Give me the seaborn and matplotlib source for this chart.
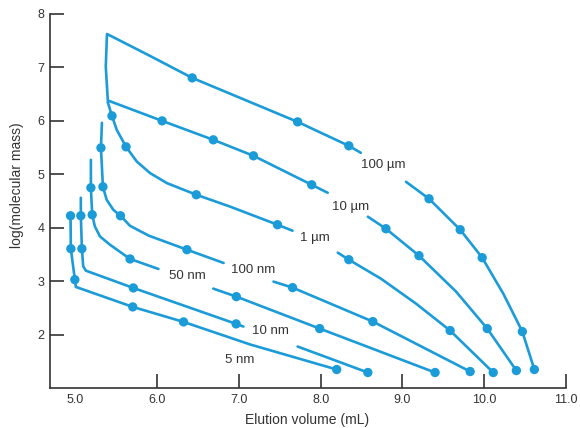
import numpy as np
import pandas as pd
import seaborn as sns
import matplotlib.pyplot as plt

# calibration curves: log(molecular mass) vs elution volume, one per pore size
# None marks a break in the line (where the label sits)
line_5nm = [(4.941, 4.224), (4.945, 3.607), (4.994, 3.028), (5.006, 2.892), (5.702, 2.518),
            (6.323, 2.237), (7.141, 1.813), (8.196, 1.346)]
dots_5nm = [(4.941, 4.224), (4.945, 3.607), (4.994, 3.028), (5.702, 2.518), (6.323, 2.237),
            (8.196, 1.346)]

line_10nm = [(5.067, 4.561), (5.067, 4.224), (5.080, 3.607), (5.096, 3.277), (5.129, 3.196),
             (5.709, 2.873), (6.966, 2.200), (7.055, 2.150), None,
             (7.718, 1.776), (8.577, 1.290)]
dots_10nm = [(5.067, 4.224), (5.080, 3.607), (5.709, 2.873), (6.966, 2.200), (8.577, 1.290)]

line_50nm = [(5.190, 5.271), (5.190, 4.748), (5.206, 4.243), (5.239, 4.024), (5.301, 3.837),
             (5.423, 3.682), (5.669, 3.415), (6.016, 3.228), None,
             (6.687, 2.860), (6.969, 2.710), (7.988, 2.112), (9.399, 1.290)]
dots_50nm = [(5.190, 4.748), (5.206, 4.243), (5.669, 3.415), (6.969, 2.710), (7.988, 2.112),
             (9.399, 1.290)]

line_100nm = [(5.325, 5.963), (5.313, 5.495), (5.337, 4.766), (5.383, 4.523), (5.464, 4.336),
              (5.552, 4.224), (5.669, 4.035), (5.900, 3.850), (6.364, 3.589), (6.813, 3.340), None,
              (7.423, 2.991), (7.656, 2.879), (8.638, 2.243), (9.828, 1.308)]
dots_100nm = [(5.313, 5.495), (5.337, 4.766), (5.552, 4.224), (6.364, 3.589), (7.656, 2.879),
              (8.638, 2.243), (9.828, 1.308)]

line_1um = [(5.399, 6.336), (5.448, 6.093), (5.506, 5.832), (5.620, 5.514), (5.751, 5.239),
            (5.914, 5.022), (6.119, 4.835), (6.479, 4.617), (6.896, 4.393), (7.472, 4.056),
            (7.656, 3.944), None,
            (8.209, 3.533), (8.344, 3.402), (8.736, 3.047), (9.166, 2.579), (9.583, 2.075),
            (10.110, 1.290)]
dots_1um = [(5.448, 6.093), (5.620, 5.514), (6.479, 4.617), (7.472, 4.056), (8.344, 3.402),
            (9.583, 2.075), (10.110, 1.290)]

line_10um = [(5.411, 6.374), (6.061, 6.000), (6.687, 5.645), (7.178, 5.346), (7.890, 4.804),
             (8.086, 4.654), None,
             (8.577, 4.206), (8.798, 3.981), (9.202, 3.477), (9.656, 2.804), (10.037, 2.112),
             (10.393, 1.327)]
dots_10um = [(6.061, 6.000), (6.687, 5.645), (7.178, 5.346), (7.890, 4.804), (8.798, 3.981),
             (9.202, 3.477), (10.037, 2.112), (10.393, 1.327)]

line_100um = [(5.399, 6.336), (5.372, 7.015), (5.387, 7.626), (5.914, 7.215), (6.429, 6.804),
              (7.718, 5.981), (8.344, 5.533), (8.491, 5.402), None,
              (9.043, 4.860), (9.325, 4.542), (9.706, 3.963), (9.975, 3.439), (10.233, 2.766),
              (10.466, 2.056), (10.613, 1.346)]
dots_100um = [(6.429, 6.804), (7.718, 5.981), (8.344, 5.533), (9.325, 4.542), (9.706, 3.963),
              (9.975, 3.439), (10.466, 2.056), (10.613, 1.346)]

x_ticks = [5.0, 6.0, 7.0, 8.0, 9.0, 10.0, 11.0]
x_tick_labels = ['5.0', '6.0', '7.0', '8.0', '9.0', '10.0', '11.0']
y_ticks = [2, 3, 4, 5, 6, 7, 8]

lines = [line_5nm, line_10nm, line_50nm, line_100nm, line_1um, line_10um, line_100um]
dots = [dots_5nm, dots_10nm, dots_50nm, dots_100nm, dots_1um, dots_10um, dots_100um]

# long tables for seaborn; each unbroken piece of a curve gets its own unit id
rows = []
seg = 0
for line in lines:
    seg += 1
    for p in line:
        if p is None:
            seg += 1
            continue
        rows.append((seg, p[0], p[1]))
df_lines = pd.DataFrame(rows, columns=['seg', 'vol', 'logm'])
df_dots = pd.DataFrame([p for d in dots for p in d], columns=['vol', 'logm'])

sns.set_style('white')
plt.rcParams['font.family'] = ['Liberation Sans', 'DejaVu Sans']

blue = '#1b9bd7'
ink = '#333333'

fig = plt.figure(figsize=(5.8, 4.28), dpi=100)
ax = fig.add_axes([50 / 580, 1 - 388 / 428, 516 / 580, 374 / 428])

sns.lineplot(data=df_lines, x='vol', y='logm', units='seg', estimator=None, sort=False,
             color=blue, linewidth=1.9, ax=ax)
sns.scatterplot(data=df_dots, x='vol', y='logm', color=blue, s=45, edgecolor='none',
                zorder=3, ax=ax)

labels = [('100 µm', 8.77, 5.18), ('10 µm', 8.36, 4.39), ('1 µm', 7.93, 3.81),
          ('100 nm', 7.18, 3.21), ('50 nm', 6.37, 3.10), ('10 nm', 7.39, 2.06),
          ('5 nm', 7.01, 1.53)]
for txt, lx, ly in labels:
    ax.text(lx, ly, txt, ha='center', va='center', fontsize=9.5, color=ink)

ax.set_xlim(4.69, 11.0)
ax.set_ylim(1.0, 8.0)
ax.set_xticks(x_ticks)
ax.set_xticklabels(x_tick_labels)
ax.set_yticks(y_ticks)
ax.tick_params(left=True, bottom=True, direction='in', length=10, width=1.2,
               colors=ink, labelsize=9, pad=4)
ax.xaxis.get_major_ticks()[0].tick1line.set_visible(False)
sns.despine(ax=ax)
for s in ['left', 'bottom']:
    ax.spines[s].set_color(ink)
    ax.spines[s].set_linewidth(1.2)

ax.set_xlabel('Elution volume (mL)', fontsize=10, color=ink)
ax.set_ylabel('log(molecular mass)', fontsize=10, color=ink)
ax.xaxis.set_label_coords(0.498, -0.066)
ax.yaxis.set_label_coords(-0.05, 0.543)

plt.savefig('out.png', dpi=100)
